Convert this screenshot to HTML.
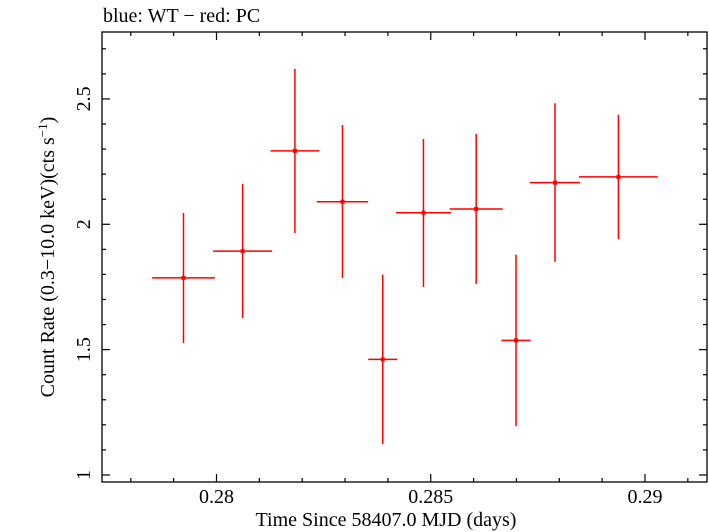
<!DOCTYPE html>
<html><head><meta charset="utf-8"><style>
body{margin:0;background:#fff;}
svg{display:block;font-family:"Liberation Serif",serif;}
</style></head><body>
<svg id="chart" width="709" height="532" viewBox="0 0 709 532" xmlns="http://www.w3.org/2000/svg">
<text x="103" y="22" font-size="20">blue: WT − red: PC</text>
<rect x="102" y="32" width="605" height="450" fill="none" stroke="#000" stroke-width="1.3"/>
<g id="axes"></g>
<g id="marks"></g>
<text x="386" y="526" font-size="20" text-anchor="middle">Time Since 58407.0 MJD (days)</text>
<text transform="translate(54,257) rotate(-90)" font-size="20" text-anchor="middle">Count Rate (0.3−10.0 keV)(cts s<tspan font-size="13" dy="-7">−1</tspan><tspan dy="7">)</tspan></text>
</svg>
<script>
const times=[0.27923,0.28061,0.28183,0.28294,0.28388,0.28483,0.28606,0.28699,0.28790,0.28938];
const timeErr=[0.000735,0.00069,0.00057,0.0006,0.00034,0.00064,0.00062,0.00034,0.00059,0.00092];
const rates=[1.786,1.893,2.293,2.090,1.461,2.046,2.061,1.537,2.166,2.189];
const rateErrUp=[0.259,0.268,0.327,0.306,0.338,0.294,0.299,0.342,0.317,0.248];
const rateErrDown=[0.260,0.267,0.328,0.304,0.338,0.296,0.299,0.342,0.316,0.248];
const xMajorTicks=[0.28,0.285,0.29];
const xTickLabels=["0.28","0.285","0.29"];
const yMajorTicks=[1,1.5,2,2.5];
const yTickLabels=["1","1.5","2","2.5"];

const X0=102,X1=707,Y0=32,Y1=482;
const xMin=0.277328,xMax=0.291447,yMin=0.972,yMax=2.767;
function sx(v){return X0+(v-xMin)/(xMax-xMin)*(X1-X0);}
function sy(v){return Y1-(v-yMin)/(yMax-yMin)*(Y1-Y0);}
const NS="http://www.w3.org/2000/svg";
function line(p,x1,y1,x2,y2,c,w){const l=document.createElementNS(NS,'line');l.setAttribute('x1',x1);l.setAttribute('y1',y1);l.setAttribute('x2',x2);l.setAttribute('y2',y2);l.setAttribute('stroke',c);l.setAttribute('stroke-width',w);p.appendChild(l);return l;}
const axes=document.getElementById('axes');
for(let k=0;k<=15;k++){const v=0.277+k*0.001;if(v<xMin||v>xMax)continue;const x=sx(v);
 const major=Math.abs(Math.round(v*200)-v*200)<1e-6;const L=major?8:4;
 const t1=line(axes,x,Y1,x,Y1-L,'#000',1.2);
 
 
 const t2=line(axes,x,Y0,x,Y0+L,'#000',1.2);
 
 }
xMajorTicks.forEach((v,i)=>{const t=document.createElementNS(NS,'text');t.setAttribute('x',sx(v));t.setAttribute('y',503);t.setAttribute('font-size','20');t.setAttribute('text-anchor','middle');t.textContent=xTickLabels[i];
 
 
 axes.appendChild(t);});
for(let k=10;k<=27;k++){const v=k/10;if(v<yMin||v>yMax)continue;const y=sy(v);const major=k%5===0;const L=major?8:4;
 const t1=line(axes,X0,y,X0+L,y,'#000',1.2);
 
 
 const t2=line(axes,X1,y,X1-L,y,'#000',1.2);
 
 }
yMajorTicks.forEach((v,i)=>{const t=document.createElementNS(NS,'text');t.setAttribute('transform','translate(90,'+sy(v)+') rotate(-90)');t.setAttribute('font-size','20');t.setAttribute('text-anchor','middle');t.textContent=yTickLabels[i];
 
 
 axes.appendChild(t);});
const marks=document.getElementById('marks');
times.forEach((t,i)=>{const g=document.createElementNS(NS,'g');
 
 
 line(g,sx(t-timeErr[i]),sy(rates[i]),sx(t+timeErr[i]),sy(rates[i]),'#ff0000',1.5);
 line(g,sx(t),sy(rates[i]+rateErrUp[i]),sx(t),sy(rates[i]-rateErrDown[i]),'#ff0000',1.5);
 const r=document.createElementNS(NS,'rect');r.setAttribute('x',sx(t)-2);r.setAttribute('y',sy(rates[i])-2);r.setAttribute('width',4);r.setAttribute('height',4);r.setAttribute('fill','#ff0000');g.appendChild(r);
 marks.appendChild(g);});
</script>
</body></html>
